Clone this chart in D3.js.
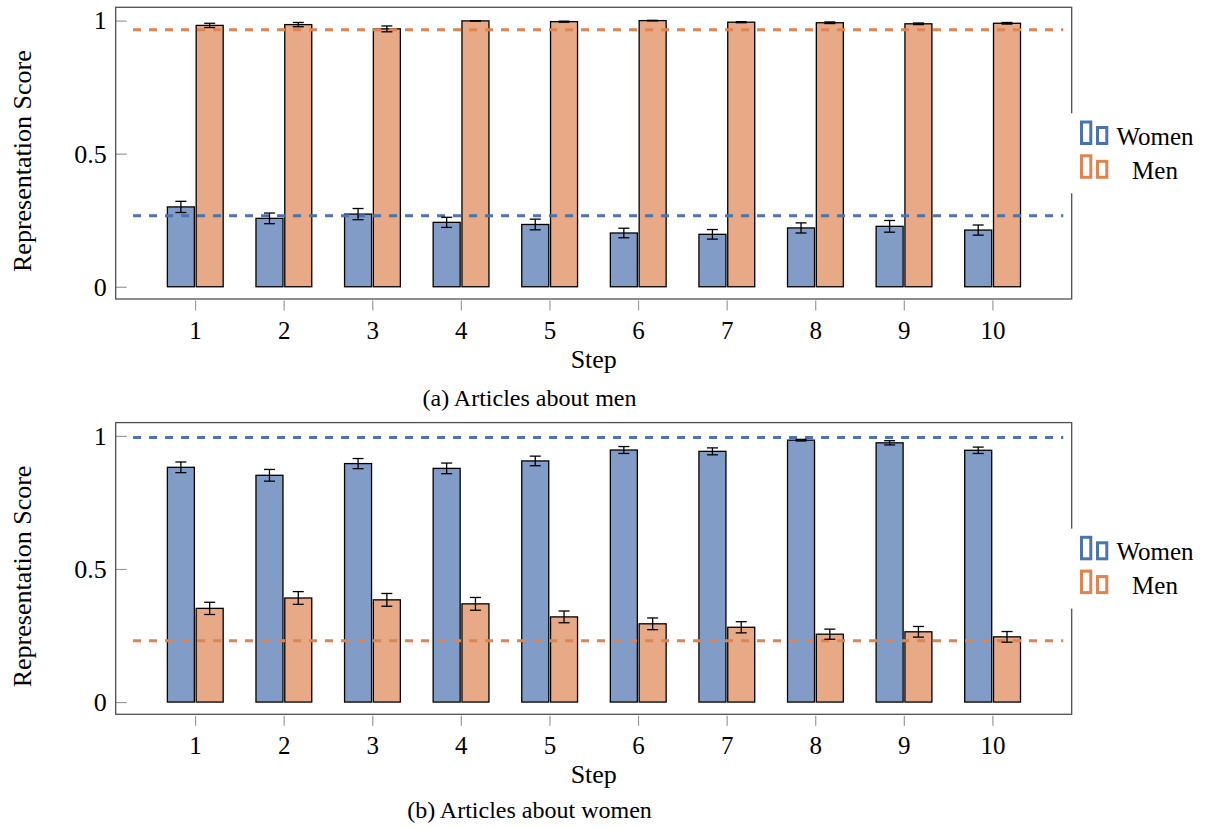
<!DOCTYPE html>
<html>
<head>
<meta charset="utf-8">
<script src="https://d3js.org/d3.v7.min.js"></script>
<style>
  body { margin: 0; background: white; }
</style>
</head>
<body>
<script>
// steps and tick labels
var steps = [1, 2, 3, 4, 5, 6, 7, 8, 9, 10];
var stepLabels = ["1", "2", "3", "4", "5", "6", "7", "8", "9", "10"];
var yTicks = [0, 0.5, 1];
var yTickLabels = ["0", "0.5", "1"];
var series = ["Women", "Men"];

// (a) articles about men
var menArtWomen = [0.300, 0.257, 0.273, 0.242, 0.234, 0.202, 0.197, 0.221, 0.227, 0.213];
var menArtWomenErr = [0.021, 0.020, 0.021, 0.019, 0.020, 0.018, 0.018, 0.019, 0.022, 0.019];
var menArtMen = [0.982, 0.985, 0.969, 0.999, 0.996, 1.000, 0.994, 0.992, 0.988, 0.990];
var menArtMenErr = [0.008, 0.008, 0.011, 0.001, 0.002, 0.001, 0.002, 0.003, 0.003, 0.003];
var menArtRef = [0.267, 0.966];

// (b) articles about women
var womenArtWomen = [0.882, 0.852, 0.896, 0.878, 0.906, 0.947, 0.942, 0.984, 0.974, 0.946];
var womenArtWomenErr = [0.020, 0.022, 0.019, 0.020, 0.018, 0.013, 0.013, 0.003, 0.008, 0.012];
var womenArtMen = [0.352, 0.391, 0.384, 0.369, 0.320, 0.294, 0.281, 0.255, 0.264, 0.245];
var womenArtMenErr = [0.023, 0.024, 0.024, 0.024, 0.022, 0.022, 0.021, 0.019, 0.020, 0.020];
var womenArtRef = [0.994, 0.230];

var captions = ["(a) Articles about men", "(b) Articles about women"];

var lineColors = ["#4c72b0", "#dd8452"];
var fillColors = ["#829cc8", "#e7a986"];
var serif = "'Liberation Serif'";

var svg = d3.select("body")
            .append("svg")
            .attr("width", 1209)
            .attr("height", 828);

create_panel(svg, 7.3, menArtWomen, menArtWomenErr, menArtMen, menArtMenErr, menArtRef, captions[0]);
create_panel(svg, 422.6, womenArtWomen, womenArtWomenErr, womenArtMen, womenArtMenErr, womenArtRef, captions[1]);

function create_panel(svg, top, women, womenErr, men, menErr, ref, caption) {
  var left = 115.7, right = 1071.7, height = 291.7;

  var xScale = d3.scaleLinear()
                 .domain([0.104, 10.895])
                 .range([left, right]);

  var yScale = d3.scaleLinear()
                 .domain([-0.046, 1.05])
                 .range([top + height, top]);

  var g = svg.append("g");

  // y ticks inside the frame
  var yAxis = g.append("g")
               .attr("transform", "translate(" + left + ",0)")
               .call(d3.axisLeft(yScale)
                       .tickValues(yTicks)
                       .tickSize(-11)
                       .tickPadding(9)
                       .tickFormat(function(d, i) { return yTickLabels[i]; }));
  yAxis.select(".domain").remove();
  yAxis.selectAll("line").attr("stroke", "#9a9a9a").attr("stroke-width", 1.2);
  yAxis.selectAll("text")
       .style("font-family", serif)
       .style("font-size", "26px")
       .attr("fill", "black");

  // x ticks below the frame
  var xAxis = g.append("g")
               .attr("transform", "translate(0," + (top + height + 1.5) + ")")
               .call(d3.axisBottom(xScale)
                       .tickValues(steps)
                       .tickSize(10)
                       .tickFormat(function(d, i) { return stepLabels[i]; }));
  xAxis.select(".domain").remove();
  xAxis.selectAll("line").attr("stroke", "#9a9a9a").attr("stroke-width", 1.2);
  xAxis.selectAll("text")
       .style("font-family", serif)
       .style("font-size", "25px")
       .attr("fill", "black")
       .attr("y", 38.5)
       .attr("dy", 0);

  // bars
  var barWidth = 27;
  var groups = [[women, womenErr, -14.2], [men, menErr, 14.6]];

  groups.forEach(function(grp, k) {
    var vals = grp[0], shift = grp[2];

    g.selectAll(".bar" + k)
     .data(vals)
     .enter().append("rect")
      .attr("x", function(d, i) { return xScale(steps[i]) + shift - barWidth / 2; })
      .attr("y", function(d) { return yScale(d); })
      .attr("width", barWidth)
      .attr("height", function(d) { return yScale(0) - yScale(d); })
      .style("fill", fillColors[k])
      .style("stroke", "black")
      .style("stroke-width", 1.3);
  });

  // reference lines
  ref.forEach(function(r, k) {
    g.append("line")
     .attr("x1", xScale(0.3))
     .attr("x2", xScale(10.8))
     .attr("y1", yScale(r))
     .attr("y2", yScale(r))
     .style("stroke", lineColors[k])
     .style("stroke-width", 3)
     .style("stroke-dasharray", "8,8");
  });

  // error bars
  groups.forEach(function(grp, k) {
    var vals = grp[0], errs = grp[1], shift = grp[2];
    vals.forEach(function(d, i) {
      var cx = xScale(steps[i]) + shift;
      var lo = yScale(d - errs[i]), hi = yScale(d + errs[i]);
      g.append("line")
       .attr("x1", cx).attr("x2", cx).attr("y1", lo).attr("y2", hi)
       .style("stroke", "black").style("stroke-width", 1.3);
      [lo, hi].forEach(function(y) {
        g.append("line")
         .attr("x1", cx - 5.5).attr("x2", cx + 5.5).attr("y1", y).attr("y2", y)
         .style("stroke", "black").style("stroke-width", 1.3);
      });
    });
  });

  // frame
  g.append("rect")
   .attr("x", left)
   .attr("y", top)
   .attr("width", right - left)
   .attr("height", height)
   .style("fill", "none")
   .style("stroke", "#505050")
   .style("stroke-width", 1.3);

  // legend box covers the frame edge
  g.append("rect")
   .attr("x", right - 1.5)
   .attr("y", top + 106)
   .attr("width", 1209 - right + 1.5)
   .attr("height", 80)
   .style("fill", "white");

  var rows = [top + 137.7, top + 171.5];
  series.forEach(function(name, k) {
    var base = rows[k];
    g.append("rect")
     .attr("x", 1081.5).attr("y", base - 23).attr("width", 9.3).attr("height", 21.5)
     .style("fill", "white").style("stroke", lineColors[k]).style("stroke-width", 3);
    g.append("rect")
     .attr("x", 1097.5).attr("y", base - 17.5).attr("width", 9.3).attr("height", 16)
     .style("fill", "white").style("stroke", lineColors[k]).style("stroke-width", 3);
    g.append("text")
     .attr("x", 1155)
     .attr("y", base)
     .attr("text-anchor", "middle")
     .style("font-family", serif)
     .style("font-size", "25px")
     .text(name);
  });

  // axis labels
  g.append("text")
   .attr("transform", "translate(31," + (top + height / 2 + 8) + ") rotate(-90)")
   .attr("text-anchor", "middle")
   .style("font-family", serif)
   .style("font-size", "26px")
   .text("Representation Score");

  g.append("text")
   .attr("x", xScale(5.5))
   .attr("y", top + height + 69)
   .attr("text-anchor", "middle")
   .style("font-family", serif)
   .style("font-size", "26px")
   .text("Step");

  g.append("text")
   .attr("x", 529.5)
   .attr("y", top + height + (caption[1] == "a" ? 107 : 103.5))
   .attr("text-anchor", "middle")
   .style("font-family", serif)
   .style("font-size", "24px")
   .text(caption);
}
</script>
</body>
</html>
